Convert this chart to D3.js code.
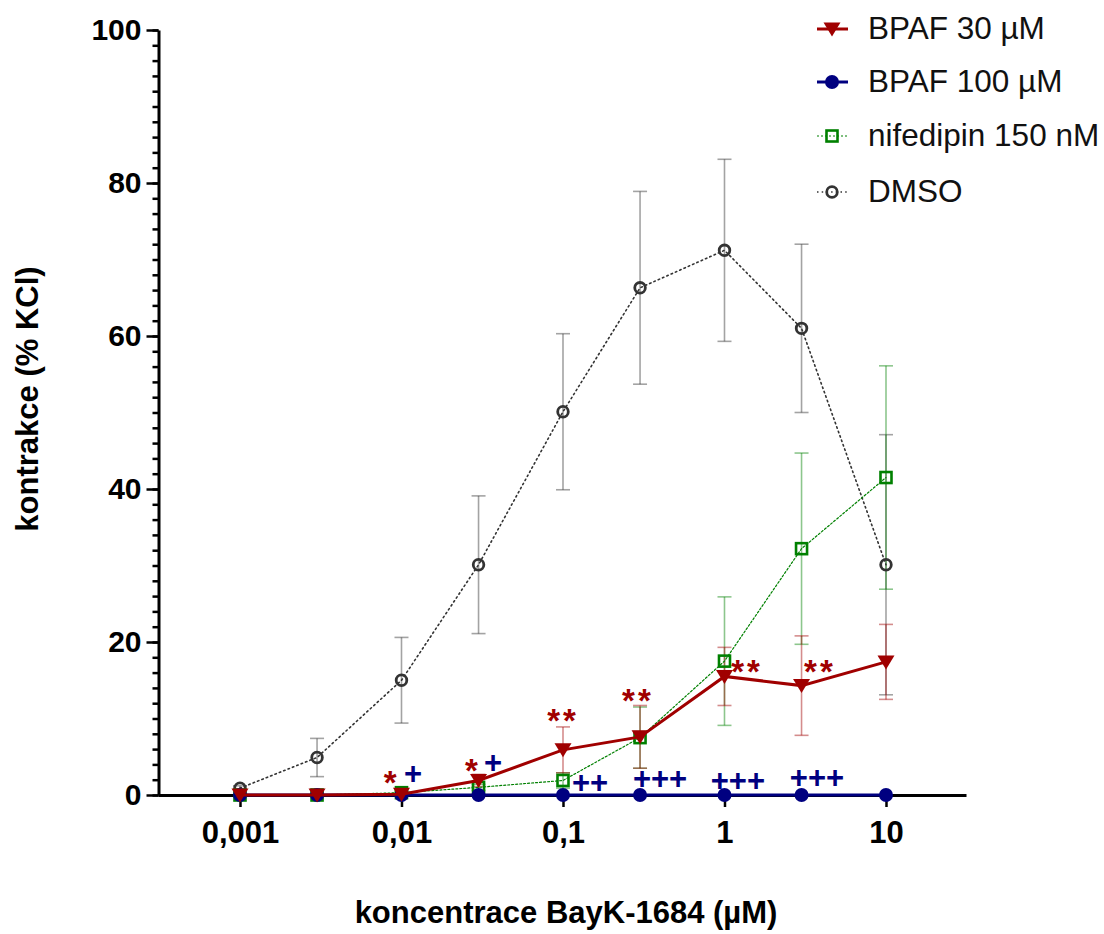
<!DOCTYPE html>
<html>
<head>
<meta charset="utf-8">
<script src="https://cdn.jsdelivr.net/npm/d3@7"></script>
<style>
  body { margin: 0; background: #fff; }
  text { font-family: Arial, "Liberation Sans", sans-serif; }
</style>
</head>
<body>
<div id="container"></div>
<script>
"use strict";

// BayK-1684 concentrations (µM).
const concentrations = [0.001, 0.003, 0.01, 0.03, 0.1, 0.3, 1, 3, 10];

const seriesNames = ["BPAF 30 µM", "BPAF 100 µM", "nifedipin 150 nM", "DMSO"];

// Means and SEM, contraction in % of KCl.
const bpaf30Mean = [0, 0, 0.1, 1.9, 5.9, 7.6, 15.5, 14.3, 17.4];
const bpaf30Err = [0, 0, 0.2, 0.8, 3.0, 4.1, 3.8, 6.5, 4.9];
const bpaf100Mean = [0, 0, 0, 0, 0, 0, 0, 0, 0];
const bpaf100Err = [0, 0, 0, 0, 0, 0, 0, 0, 0];
const nifedipinMean = [0, 0, 0.3, 1.0, 1.9, 7.5, 17.5, 32.2, 41.5];
const nifedipinErr = [0, 0, 0.2, 0.4, 1.0, 4.0, 8.4, 12.5, 14.6];
const dmsoMean = [0.9, 4.9, 15.0, 30.1, 50.1, 66.3, 71.2, 61.0, 30.1];
const dmsoErr = [0.3, 2.5, 5.6, 9.0, 10.2, 12.6, 11.9, 11.0, 17.0];

const yTicks = [0, 20, 40, 60, 80, 100];
const xTicks = [0.001, 0.01, 0.1, 1, 10];
const xTickLabels = ["0,001", "0,01", "0,1", "1", "10"];

// Significance marks: BPAF 30 µM (*) and BPAF 100 µM (+), placed in data units.
const starLabels = ["*", "*", "**", "**", "**", "**"];
const starX = [0.0087, 0.0277, 0.1, 0.291, 1.38, 3.9];
const starY = [2.6, 4.2, 10.7, 13.3, 17.1, 17.1];
const plusLabels = ["+", "+", "++", "+++", "+++", "+++"];
const plusX = [0.0118, 0.0369, 0.147, 0.399, 1.21, 3.74];
const plusY = [2.9, 4.3, 1.7, 2.2, 2.0, 2.4];

const width = 1104;
const height = 934;

const xScale = d3.scaleLog()
  .domain([Math.pow(10, -3.5077), Math.pow(10, 1.4954)])
  .range([158, 966]);
const yScale = d3.scaleLinear().domain([0, 100]).range([795, 30]);

const series = [
  { name: seriesNames[3], mean: dmsoMean, err: dmsoErr, color: "#333333", line: 1.6, dash: "1.5,3.2", marker: "ring" },
  { name: seriesNames[2], mean: nifedipinMean, err: nifedipinErr, color: "#008000", line: 1.2, dash: "2,2", marker: "square" },
  { name: seriesNames[1], mean: bpaf100Mean, err: bpaf100Err, color: "#000080", line: 3, dash: null, marker: "dot" },
  { name: seriesNames[0], mean: bpaf30Mean, err: bpaf30Err, color: "#a00000", line: 3, dash: null, marker: "tri" },
];

/**
 * @param {d3.Selection} g
 * @param {string} type
 * @param {string} color
 */
function drawMarker(g, type, color) {
  if (type === "tri") {
    g.append("path").attr("d", "M-8.5,-6.5L8.5,-6.5L0,7.5Z").attr("fill", color);
  } else if (type === "dot") {
    g.append("circle").attr("r", 7).attr("fill", color);
  } else if (type === "square") {
    g.append("rect")
      .attr("x", -5.5).attr("y", -5.5).attr("width", 11).attr("height", 11)
      .attr("fill", "none").attr("stroke", color).attr("stroke-width", 2.6);
  } else {
    g.append("circle").attr("r", 5.3).attr("fill", "none")
      .attr("stroke", color).attr("stroke-width", 2.8);
  }
}

const svg = d3.create("svg").attr("width", width).attr("height", height);

// Y axis, major and minor ticks.
svg.append("g")
  .attr("transform", "translate(158.5,0)")
  .call(d3.axisLeft(yScale).tickValues(d3.range(0, 101, 2)).tickSize(6).tickFormat(""))
  .call((g) => g.select(".domain").remove())
  .selectAll("line").attr("stroke", "#000").attr("stroke-width", 2.5);

svg.append("g")
  .attr("transform", "translate(158.5,0)")
  .call(d3.axisLeft(yScale).tickValues(yTicks).tickSize(12).tickSizeOuter(0).tickPadding(5))
  .call((g) => g.select(".domain").attr("stroke-width", 3))
  .call((g) => g.selectAll("line").attr("stroke-width", 2.5))
  .call((g) => g.selectAll("text")
    .style("font-size", "30px").style("font-weight", "bold").attr("fill", "#000"));

// X axis.
svg.append("g")
  .attr("transform", "translate(0,795)")
  .call(d3.axisBottom(xScale).tickValues(xTicks).tickSize(12).tickSizeOuter(0).tickPadding(14)
    .tickFormat((d, i) => xTickLabels[i]))
  .call((g) => g.select(".domain").attr("stroke-width", 3))
  .call((g) => g.selectAll("line").attr("stroke-width", 2.5))
  .call((g) => g.selectAll("text")
    .style("font-size", "31px").style("font-weight", "bold").attr("fill", "#000"));

// Axis titles.
svg.append("text")
  .attr("transform", "translate(38,399) rotate(-90)")
  .attr("text-anchor", "middle")
  .style("font-size", "31px").style("font-weight", "bold")
  .text("kontrakce (% KCl)");

svg.append("text")
  .attr("x", 566).attr("y", 923)
  .attr("text-anchor", "middle")
  .style("font-size", "31px").style("font-weight", "bold")
  .text("koncentrace BayK-1684 (µM)");

// Error bars first, so the lines and markers sit on top.
series.forEach((s) => {
  const eb = svg.append("g")
    .attr("stroke", s.color).attr("stroke-opacity", 0.45).attr("stroke-width", 1.6);
  concentrations.forEach((c, i) => {
    if (!s.err[i]) return;
    const x = xScale(c);
    const y0 = yScale(s.mean[i] - s.err[i]);
    const y1 = yScale(s.mean[i] + s.err[i]);
    eb.append("line").attr("x1", x).attr("x2", x).attr("y1", y0).attr("y2", y1);
    eb.append("line").attr("x1", x - 7).attr("x2", x + 7).attr("y1", y0).attr("y2", y0);
    eb.append("line").attr("x1", x - 7).attr("x2", x + 7).attr("y1", y1).attr("y2", y1);
  });
});

const line = d3.line().x((d) => xScale(d[0])).y((d) => yScale(d[1]));

series.forEach((s) => {
  const pts = concentrations.map((c, i) => [c, s.mean[i]]);
  svg.append("path")
    .attr("d", line(pts))
    .attr("fill", "none")
    .attr("stroke", s.color)
    .attr("stroke-width", s.line)
    .attr("stroke-dasharray", s.dash)
    .attr("stroke-linecap", s.dash ? "round" : "butt");
  pts.forEach((p) => {
    const g = svg.append("g").attr("transform", `translate(${xScale(p[0])},${yScale(p[1])})`);
    drawMarker(g, s.marker, s.color);
  });
});

// Significance marks.
starLabels.forEach((t, i) => {
  svg.append("text")
    .attr("x", xScale(starX[i])).attr("y", yScale(starY[i]) + 19)
    .attr("text-anchor", "middle").attr("fill", "#a00000")
    .style("font-size", "33px").style("font-weight", "bold").style("letter-spacing", "3px")
    .text(t);
});
plusLabels.forEach((t, i) => {
  svg.append("text")
    .attr("x", xScale(plusX[i])).attr("y", yScale(plusY[i]) + 11)
    .attr("text-anchor", "middle").attr("fill", "#000080")
    .style("font-size", "31px").style("font-weight", "bold")
    .text(t);
});

// Legend, top right, in the original order.
const legendOrder = [3, 2, 1, 0];
const legendY = [29, 82, 136, 192];
legendOrder.forEach((si, i) => {
  const s = series[si];
  const g = svg.append("g").attr("transform", `translate(832,${legendY[i]})`);
  g.append("line")
    .attr("x1", -15).attr("x2", 16)
    .attr("stroke", s.color).attr("stroke-width", s.line)
    .attr("stroke-dasharray", s.dash);
  drawMarker(g, s.marker, s.color);
  g.append("text")
    .attr("x", 36).attr("y", 10)
    .style("font-size", "31.5px").attr("fill", "#111")
    .text(s.name);
});

d3.select("#container").append(() => svg.node());
</script>
</body>
</html>
